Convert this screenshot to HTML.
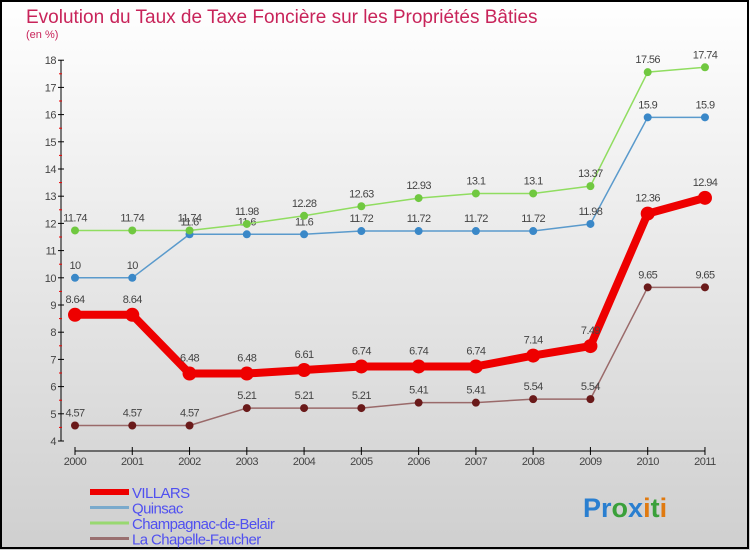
<!DOCTYPE html>
<html><head><meta charset="utf-8"><style>
body{margin:0;width:750px;height:550px;overflow:hidden;font-family:"Liberation Sans",sans-serif}
</style></head><body>
<svg id="c" width="750" height="550" xmlns="http://www.w3.org/2000/svg">
<defs><linearGradient id="bg" x1="0" y1="0" x2="0" y2="1"><stop offset="0" stop-color="#ffffff"/><stop offset="1" stop-color="#cfcfcf"/></linearGradient></defs>
<rect x="0" y="0" width="750" height="550" fill="url(#bg)"/>
<rect x="1" y="1" width="747" height="547" fill="none" stroke="#000" stroke-width="2"/>
<text x="26" y="23" font-size="19" fill="#c8245a">Evolution du Taux de Taxe Foncière sur les Propriétés Bâties</text>
<text x="26" y="38" font-size="11" fill="#c8245a">(en %)</text>
<g id="axes"></g><g id="series"></g><g id="legend"></g>
<text x="583" y="517" font-size="27" font-weight="bold"><tspan fill="#2a7fd0">Pr</tspan><tspan fill="#3aa03a">o</tspan><tspan fill="#2a7fd0">x</tspan><tspan fill="#e07a10">i</tspan><tspan fill="#3aa03a">t</tspan><tspan fill="#e07a10">i</tspan></text>
</svg>
<script>
const years=[2000,2001,2002,2003,2004,2005,2006,2007,2008,2009,2010,2011];
const yTicks=[4,5,6,7,8,9,10,11,12,13,14,15,16,17,18];
const villars=[8.64,8.64,6.48,6.48,6.61,6.74,6.74,6.74,7.14,7.49,12.36,12.94];
const quinsac=[10,10,11.6,11.6,11.6,11.72,11.72,11.72,11.72,11.98,15.9,15.9];
const champagnac=[11.74,11.74,11.74,11.98,12.28,12.63,12.93,13.1,13.1,13.37,17.56,17.74];
const chapelle=[4.57,4.57,4.57,5.21,5.21,5.21,5.41,5.41,5.54,5.54,9.65,9.65];
const NS="http://www.w3.org/2000/svg";
const X=i=>75+i*57.27, Y=v=>441-(v-4)*27.2;
function mk(p,t,a){const e=document.createElementNS(NS,t);for(const k in a)e.setAttribute(k,a[k]);p.appendChild(e);return e;}
const ax=document.getElementById('axes');
let yl=mk(ax,'line',{x1:61,y1:60,x2:61,y2:441,stroke:'#000'});


yTicks.forEach(v=>{
 const t=mk(ax,'line',{x1:58,x2:64,y1:Y(v),y2:Y(v),stroke:'#000'});
 
 
 if(v<18){const m=mk(ax,'line',{x1:59,x2:62,y1:Y(v+0.5),y2:Y(v+0.5),stroke:'#e00'});
 
 }
 const l=mk(ax,'text',{x:56,y:Y(v)+4,'font-size':11,fill:'#444','text-anchor':'end','letter-spacing':'-0.5'});l.textContent=v;
 
 
});
let xl=mk(ax,'line',{x1:75,y1:451,x2:705,y2:451,stroke:'#000'});


years.forEach((yr,i)=>{
 const t=mk(ax,'line',{x1:X(i),x2:X(i),y1:447,y2:455,stroke:'#000'});
 
 
 const l=mk(ax,'text',{x:X(i),y:465,'font-size':11,fill:'#444','text-anchor':'middle','letter-spacing':'-0.5'});l.textContent=yr;
 
 
});
const sg=document.getElementById('series');
function series(vals,name,line,dot,w,r){
 const g=mk(sg,'g',{});
 
 
 const pl=mk(g,'polyline',{points:vals.map((v,i)=>X(i)+','+Y(v)).join(' '),fill:'none',stroke:line,'stroke-width':w,'stroke-linejoin':'round'});
 
 
 vals.forEach((v,i)=>{
  const c=mk(g,'circle',{cx:X(i),cy:Y(v),r:r,fill:dot});
  
  
  const t=mk(g,'text',{x:X(i),y:Y(v)-(r+5),'font-size':11,fill:'#444','text-anchor':'middle','letter-spacing':'-0.6'});t.textContent=v;
  
  
 });
}
series(chapelle,'la-chapelle-faucher','#9a6a6a','#6a1a1a',1.5,4);
series(quinsac,'quinsac','#5a9acc','#3a88c8',1.5,4);
series(champagnac,'champagnac-de-belair','#90dd60','#70c840',1.5,4);
series(villars,'villars','#ee0000','#ee0000',8,7);
const lg=document.getElementById('legend');
[['VILLARS','#ee0000',6],['Quinsac','#7aaacc',3],['Champagnac-de-Belair','#98d870',3],['La Chapelle-Faucher','#9a7070',3]].forEach((d,i)=>{
 const y=492+i*15.5;
 const s=mk(lg,'line',{x1:90,x2:129,y1:y,y2:y,stroke:d[1],'stroke-width':d[2]});
 
 
 const t=mk(lg,'text',{x:132,y:y+6,'font-size':15,fill:'#5050f0','letter-spacing':'-0.6'});t.textContent=d[0];
 
 
});
</script>
</body></html>
